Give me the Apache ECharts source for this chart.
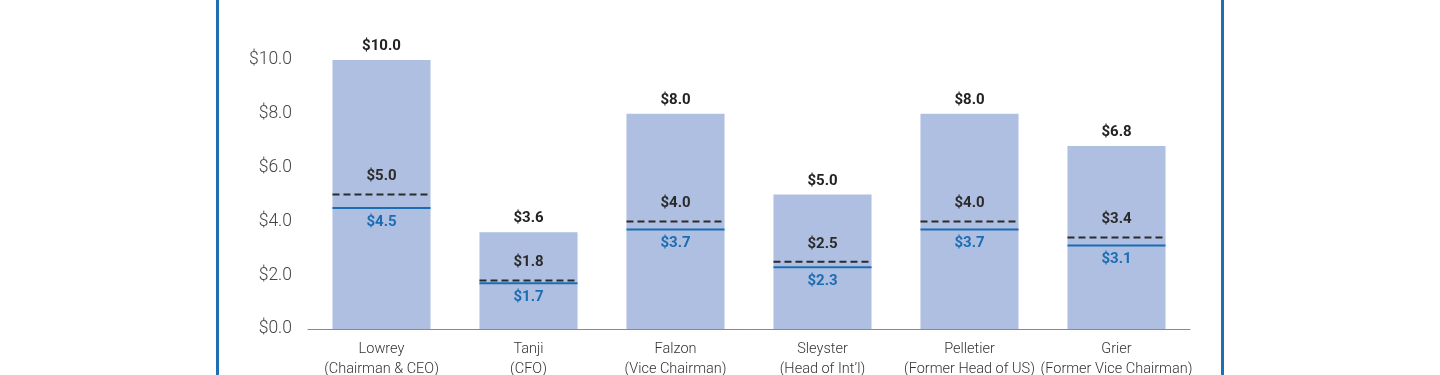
<!DOCTYPE html>
<html>
<head>
<meta charset="utf-8">
<script src="https://cdn.jsdelivr.net/npm/echarts@6/dist/echarts.min.js"></script>
<style>
  html, body { margin: 0; padding: 0; background: #fff; }
  #chart { width: 1440px; height: 375px; }
</style>
</head>
<body>
<div id="chart"></div>
<script>
// names and roles on the x axis
const categories = [
    'Lowrey\n(Chairman & CEO)',
    'Tanji\n(CFO)',
    'Falzon\n(Vice Chairman)',
    'Sleyster\n(Head of Int\u2019l)',
    'Pelletier\n(Former Head of US)',
    'Grier\n(Former Vice Chairman)'
];
// total bar value ($M)
const barValues = [10.0, 3.6, 8.0, 5.0, 8.0, 6.8];
// dashed marker
const dashedValues = [5.0, 1.8, 4.0, 2.5, 4.0, 3.4];
// solid blue marker
const solidValues = [4.5, 1.7, 3.7, 2.3, 3.7, 3.1];
const yTicks = [0, 2, 4, 6, 8, 10];

const BLUE = '#1b6db3';
const FONT = 'Roboto, "Liberation Sans", sans-serif';
const BAR_RATIO = 0.667;

const fmt = v => '$' + v.toFixed(1);

function markerSeries(values, dashed) {
    return {
        type: 'custom',
        data: values.map((v, i) => [i, v]),
        encode: { x: 0, y: 1 },
        z: 5,
        renderItem: (params, api) => {
            const p = api.coord([api.value(0), api.value(1)]);
            const bw = api.size([1, 0])[0] * BAR_RATIO;
            return {
                type: 'group',
                children: [
                    {
                        type: 'line',
                        shape: { x1: p[0] - bw / 2, y1: p[1], x2: p[0] + bw / 2, y2: p[1] },
                        style: {
                            stroke: dashed ? '#2b2b2b' : BLUE,
                            lineWidth: 2,
                            lineDash: dashed ? [7, 4] : null
                        }
                    },
                    {
                        type: 'text',
                        x: p[0],
                        y: dashed ? p[1] - 18 : p[1] + 14,
                        style: {
                            text: fmt(api.value(1)),
                            align: 'center',
                            verticalAlign: 'middle',
                            fill: dashed ? '#2b2b2b' : BLUE,
                            font: 'bold 15px ' + FONT
                        }
                    }
                ]
            };
        }
    };
}

const myChart = echarts.init(document.getElementById('chart'));

const option = {
    animation: false,
    grid: { left: 308, right: 250, top: 60, bottom: 46, containLabel: false, outerBoundsMode: 'none' },
    graphic: [
        { type: 'rect', shape: { x: 216, y: 0, width: 3, height: 375 }, style: { fill: '#1f6eb0' } },
        { type: 'rect', shape: { x: 1221, y: 0, width: 3, height: 375 }, style: { fill: '#1f6eb0' } }
    ],
    xAxis: {
        type: 'category',
        data: categories,
        axisLine: { lineStyle: { color: '#8a8a8a', width: 1 } },
        axisTick: { show: false },
        axisLabel: {
            color: '#333',
            fontFamily: FONT,
            fontWeight: 300,
            fontSize: 14.5,
            lineHeight: 20,
            margin: 10,
            interval: 0
        }
    },
    yAxis: {
        type: 'value',
        min: yTicks[0],
        max: yTicks[yTicks.length - 1],
        interval: 2,
        splitLine: { show: false },
        axisLine: { show: false },
        axisTick: { show: false },
        axisLabel: {
            color: '#444',
            fontFamily: FONT,
            fontWeight: 300,
            fontSize: 17.5,
            margin: 16,
            formatter: v => fmt(v)
        }
    },
    series: [
        {
            type: 'bar',
            data: barValues,
            barWidth: (BAR_RATIO * 100) + '%',
            itemStyle: { color: '#aebfe1' },
            label: {
                show: true,
                position: 'top',
                distance: 6,
                color: '#222',
                fontFamily: FONT,
                fontWeight: 'bold',
                fontSize: 15,
                formatter: p => fmt(p.value)
            }
        },
        markerSeries(dashedValues, true),
        markerSeries(solidValues, false)
    ]
};

myChart.setOption(option);
</script>
</body>
</html>
